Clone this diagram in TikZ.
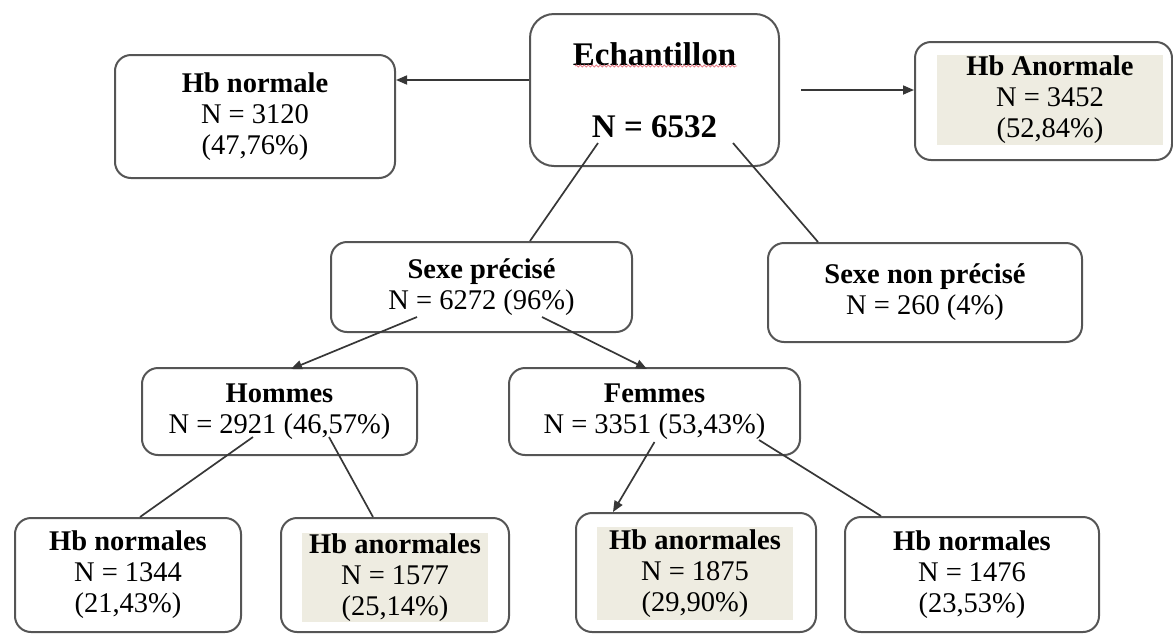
\documentclass[tikz,border=0pt]{standalone}
\usepackage{fontspec}
\setmainfont{Liberation Serif}
\usetikzlibrary{arrows.meta,decorations.pathmorphing}
\definecolor{boxline}{RGB}{85,85,85}
\definecolor{hilite}{RGB}{238,236,225}
\definecolor{linkcol}{RGB}{55,55,55}
\definecolor{spellred}{RGB}{232,130,140}
\begin{document}
\begin{tikzpicture}[x=0.5pt,y=-0.5pt,
	box/.style={draw=boxline,line width=1pt,rounded corners=8pt,align=center,inner sep=0pt,font=\fontsize{14.25}{15.5}\selectfont},
	shade/.style={fill=hilite,inner sep=0pt,align=center,font=\fontsize{14.25}{15.5}\selectfont},
	link/.style={draw=linkcol,line width=0.85pt},
	arr/.style={link,-{Triangle[length=5.5pt,width=4.5pt]}}]
	\useasboundingbox (0,0) rectangle (1173,633);
	% top row
	\node[box,minimum width=124.5pt,minimum height=76pt,rounded corners=12pt,font=\fontsize{16.5}{18}\selectfont\bfseries] (echant) at (654.5,90) {Echantillon\\[18pt]N = 6532};
	\node[box,minimum width=140pt,minimum height=61.5pt] (hbnorm) at (255,116.5) {\textbf{Hb normale}\\N = 3120\\(47,76\%)};
	\node[box,minimum width=128.5pt,minimum height=59pt] (hbanorm) at (1043.5,101) {};
	\node[shade,minimum width=113pt,minimum height=45pt] (hbanormtxt) at (1050,100) {\textbf{Hb Anormale}\\N = 3452\\(52,84\%)};
	\draw[spellred,line width=0.4pt,decorate,decoration={snake,amplitude=0.5pt,segment length=2pt}] ([shift={(-39.75pt,12pt)}]echant.center) -- ([shift={(41.25pt,12pt)}]echant.center);% spell mark
	% sex
	\node[box,minimum width=150.5pt,minimum height=45pt] (sexp) at (481.5,287) {\textbf{Sexe précisé}\\N = 6272 (96\%)};
	\node[box,minimum width=157pt,minimum height=49.5pt] (sexnp) at (925,292.5) {\textbf{Sexe non précisé}\\N = 260 (4\%)};
	\node[box,minimum width=137.5pt,minimum height=43.5pt] (hommes) at (279.5,411.5) {\textbf{Hommes}\\N = 2921 (46,57\%)};
	\node[box,minimum width=145.5pt,minimum height=43.5pt] (femmes) at (654.5,411.5) {\textbf{Femmes}\\N = 3351 (53,43\%)};
	% bottom row
	\node[box,minimum width=113pt,minimum height=57pt] (hbnh) at (128,575) {\textbf{Hb normales}\\N = 1344\\(21,43\%)};
	\node[box,minimum width=114pt,minimum height=57pt] (hbah) at (395,575) {};
	\node[shade,minimum width=93pt,minimum height=44.5pt] (hbahtxt) at (395,577.5) {\textbf{Hb anormales}\\N = 1577\\(25,14\%)};
	\node[box,minimum width=120pt,minimum height=59.5pt] (hbaf) at (696,572.5) {};
	\node[shade,minimum width=98pt,minimum height=46.5pt] (hbaftxt) at (695,573.5) {\textbf{Hb anormales}\\N = 1875\\(29,90\%)};
	\node[box,minimum width=127pt,minimum height=57.5pt] (hbnf) at (972,574.5) {\textbf{Hb normales}\\N = 1476\\(23,53\%)};
	% links
	\draw[arr] ([yshift=5pt]echant.west) -- ([yshift=5pt]echant.west -| hbnorm.east);
	\draw[arr] ([xshift=10.5pt]echant.east) -- (echant.east -| hbanorm.west);
	\draw[link] ([shift={(-28.25pt,-26.5pt)}]echant.center) -- ([xshift=24.25pt]sexp.north);
	\draw[link] ([shift={(39.25pt,-26.5pt)}]echant.center) -- ([xshift=-53.5pt]sexnp.north);
	\draw[arr] ([shift={(-32.25pt,-15pt)}]sexp.center) -- ([shift={(5.75pt,-1pt)}]hommes.north);
	\draw[arr] ([shift={(30.25pt,-15pt)}]sexp.center) -- ([shift={(-3.75pt,-1pt)}]femmes.north);
	\draw[link] ([shift={(-13.25pt,-12.75pt)}]hommes.center) -- ([xshift=6pt]hbnh.north);
	\draw[link] ([shift={(24.75pt,-12.75pt)}]hommes.center) -- ([xshift=-11pt]hbah.north);
	\draw[arr] ([yshift=-15.25pt]femmes.center) -- ([xshift=-41.5pt]hbaf.north);
	\draw[link] ([shift={(52.25pt,-14.25pt)}]femmes.center) -- ([xshift=-45.5pt]hbnf.north);
\end{tikzpicture}
\end{document}
